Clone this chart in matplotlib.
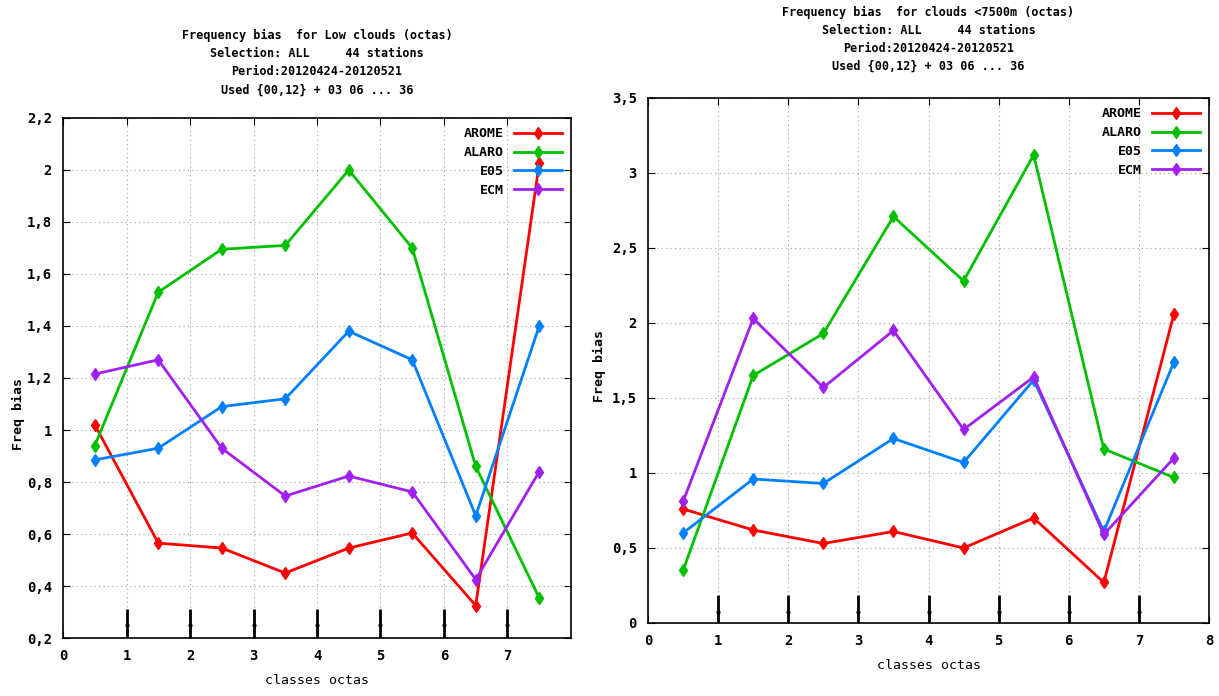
import matplotlib
matplotlib.use('Agg')
from matplotlib import pyplot as plt
import numpy as np

plt.rcParams['font.family'] = ['DejaVu Sans Mono']
plt.rcParams['font.size'] = 9
plt.rcParams['font.weight'] = 'bold'

classes = [0.5, 1.5, 2.5, 3.5, 4.5, 5.5, 6.5, 7.5]
models = ['AROME', 'ALARO', 'E05', 'ECM']
colors = ['#ff0000', '#00c000', '#0080ff', '#a020f0']

# low clouds
low_arome = [1.02, 0.565, 0.546, 0.45, 0.546, 0.604, 0.325, 2.025]
low_alaro = [0.94, 1.53, 1.695, 1.71, 2.0, 1.70, 0.86, 0.354]
low_e05 = [0.885, 0.93, 1.09, 1.12, 1.38, 1.27, 0.67, 1.40]
low_ecm = [1.215, 1.27, 0.93, 0.746, 0.823, 0.762, 0.425, 0.84]

# clouds below 7500 m
all_arome = [0.76, 0.62, 0.53, 0.61, 0.50, 0.70, 0.27, 2.06]
all_alaro = [0.35, 1.65, 1.93, 2.71, 2.28, 3.12, 1.16, 0.97]
all_e05 = [0.60, 0.96, 0.93, 1.23, 1.07, 1.62, 0.61, 1.74]
all_ecm = [0.81, 2.03, 1.57, 1.95, 1.29, 1.64, 0.59, 1.10]

# black bars at class boundaries
bound_x = [1, 2, 3, 4, 5, 6, 7]
low_bound = [0.25] * 7
low_bound_err = [0.06] * 7
all_bound = [0.075] * 7
all_bound_err = [0.11] * 7

low_title = ('Frequency bias  for Low clouds (octas)\n'
             'Selection: ALL     44 stations\n'
             'Period:20120424-20120521\n'
             'Used {00,12} + 03 06 ... 36')
all_title = ('Frequency bias  for clouds <7500m (octas)\n'
             'Selection: ALL     44 stations\n'
             'Period:20120424-20120521\n'
             'Used {00,12} + 03 06 ... 36')

fig = plt.figure(figsize=(12.19, 6.96), dpi=100)
ax1 = fig.add_axes([0.0517, 0.0833, 0.4167, 0.7472])
ax2 = fig.add_axes([0.5316, 0.1049, 0.4602, 0.7543])


def fmt(v):
    s = ('%g' % round(v, 2))
    return s.replace('.', ',')


def draw(ax, series, bx, by, berr, yticks, xticks, ylim, title, title_y, ylab_xy):
    for name, vals, c in zip(models, series, colors):
        ax.plot(classes, vals, color=c, linewidth=2, marker='d',
                markersize=6, label=name)
    ax.errorbar(bx, by, yerr=berr, fmt='none', ecolor='black',
                elinewidth=2, capsize=0)
    ax.plot(bx, by, 'k.', markersize=4)
    ax.set_xlim(0, 8)
    ax.set_ylim(*ylim)
    ax.set_xticks(xticks)
    ax.set_xticklabels([str(int(t)) for t in xticks])
    ax.set_yticks(yticks)
    ax.set_yticklabels([fmt(t) for t in yticks])
    ax.grid(True, color='#a0a0a0', linestyle=(0, (1, 3)), linewidth=0.8)
    ax.tick_params(direction='in', top=True, right=True, length=5,
                   labelsize=10, pad=8)
    ax.set_xlabel('classes octas', fontsize=9.5, labelpad=8)
    ax.set_ylabel('Freq bias', fontsize=9.5, fontweight='bold')
    ax.yaxis.set_label_coords(*ylab_xy)
    for s in ax.spines.values():
        s.set_linewidth(1.2)
    leg = ax.legend(loc='upper right', frameon=False, markerfirst=False,
                    fontsize=9.5, handlelength=3.6, borderaxespad=0.3,
                    labelspacing=0.45)
    for t in leg.get_texts():
        t.set_ha('right')
    fig.text((ax.get_position().x0 + ax.get_position().x1) / 2, title_y,
             title, ha='center', va='top', fontsize=8.5, linespacing=1.5)


draw(ax1, [low_arome, low_alaro, low_e05, low_ecm], bound_x, low_bound,
     low_bound_err, np.arange(0.2, 2.21, 0.2), range(0, 8), (0.2, 2.2),
     low_title, 0.958, (-0.074, 0.43))
draw(ax2, [all_arome, all_alaro, all_e05, all_ecm], bound_x, all_bound,
     all_bound_err, np.arange(0, 3.51, 0.5), range(0, 9), (0, 3.5),
     all_title, 0.992, (-0.075, 0.49))

fig.savefig('out.png', dpi=100)
